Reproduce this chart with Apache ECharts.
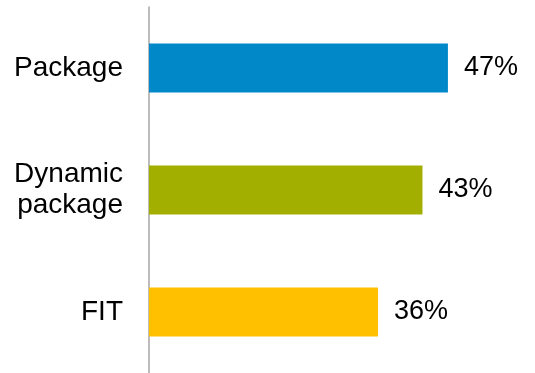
<!DOCTYPE html>
<html>
<head>
<meta charset="utf-8">
<script src="https://cdn.jsdelivr.net/npm/echarts@6/dist/echarts.min.js"></script>
<style>
  html, body { margin: 0; padding: 0; background: #fff; }
  #chart { width: 535px; height: 373px; }
</style>
</head>
<body>
<div id="chart"></div>
<script>
  const categories = ['Package', 'Dynamic\npackage', 'FIT'];
  const shares = [47, 43, 36];
  const barColors = ['#0088c9', '#a3af00', '#ffc000'];

  const chart = echarts.init(document.getElementById('chart'));
  chart.setOption({
    animation: false,
    grid: { left: 149, top: 7, bottom: 0, width: 318 },
    xAxis: {
      type: 'value',
      min: 0,
      max: 50,
      show: false
    },
    yAxis: {
      type: 'category',
      inverse: true,
      data: categories,
      axisLine: { show: true, lineStyle: { color: '#a6a6a6', width: 1.5 } },
      axisTick: { show: false },
      axisLabel: {
        color: '#000',
        fontFamily: '"Liberation Sans", Arial, sans-serif',
        fontSize: 28,
        lineHeight: 31,
        margin: 26,
        align: 'right'
      }
    },
    series: [{
      type: 'bar',
      barCategoryGap: '60%',
      data: shares.map((v, i) => ({ value: v, itemStyle: { color: barColors[i] } })),
      label: {
        show: true,
        position: 'right',
        distance: 16,
        formatter: '{c}%',
        color: '#000',
        fontFamily: '"Liberation Sans", Arial, sans-serif',
        fontSize: 27
      }
    }]
  });
</script>
</body>
</html>
